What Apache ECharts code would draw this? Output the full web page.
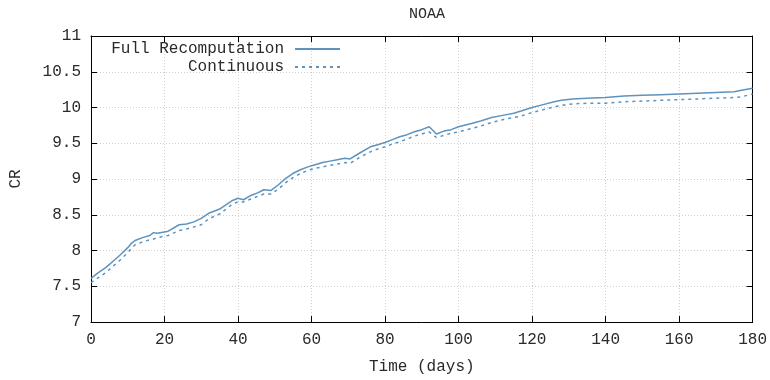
<!DOCTYPE html>
<html>
<head>
<meta charset="utf-8">
<script src="https://cdn.jsdelivr.net/npm/echarts@6/dist/echarts.min.js"></script>
<style>html,body{margin:0;padding:0;background:#fff}#c{width:770px;height:380px}</style>
</head>
<body>
<div id="c"></div>
<script>
const days = [0,2,4,6,8,10,11,12,14,16,17,18,20,21,24,26,28,30,32,34,35,37,38.5,40,41.5,43.5,45.5,47,49,51,53,55,57,59,61,63,65,67,69,70.5,73,76,78,80,82,84,86,88,90,92,94,96,98,100,103,106,109,112,115,117,120,123,126,128,131,135,140,145,150,155,160,165,170,175,177,180];
const fullRecomputation = [7.61,7.69,7.76,7.85,7.94,8.04,8.10,8.14,8.18,8.21,8.25,8.24,8.26,8.27,8.36,8.37,8.40,8.45,8.52,8.56,8.58,8.65,8.70,8.73,8.71,8.77,8.81,8.85,8.84,8.92,9.01,9.08,9.13,9.17,9.20,9.23,9.25,9.27,9.29,9.28,9.36,9.45,9.48,9.51,9.55,9.59,9.62,9.66,9.69,9.73,9.63,9.67,9.69,9.73,9.77,9.81,9.86,9.89,9.92,9.95,10.00,10.04,10.08,10.10,10.12,10.13,10.14,10.16,10.17,10.18,10.19,10.20,10.21,10.22,10.24,10.27];
const continuous = [7.55,7.62,7.69,7.78,7.87,7.97,8.03,8.08,8.12,8.15,8.16,8.18,8.20,8.21,8.28,8.30,8.33,8.36,8.44,8.49,8.51,8.59,8.65,8.68,8.68,8.72,8.76,8.79,8.79,8.86,8.95,9.02,9.08,9.12,9.15,9.17,9.19,9.21,9.23,9.22,9.30,9.38,9.42,9.45,9.49,9.52,9.56,9.60,9.63,9.66,9.58,9.61,9.64,9.66,9.70,9.74,9.79,9.83,9.86,9.88,9.93,9.97,10.01,10.03,10.05,10.06,10.06,10.08,10.09,10.10,10.11,10.12,10.13,10.14,10.15,10.19];
const seriesNames = ['Full Recomputation','Continuous'];
const titleText = 'NOAA';
const xName = 'Time (days)';
const yName = 'CR';

const font = "'Liberation Mono', 'DejaVu Sans Mono', monospace";
const color = '#5e93be';
const textColor = '#2a2a2a';
const pairs = (ys) => days.map((d, i) => [d, ys[i]]);

const chart = echarts.init(document.getElementById('c'), null, {renderer: 'canvas'});
const baseX = {
  type: 'value', min: 0, max: 180, interval: 20,
  axisLine: {show: true, onZero: false, lineStyle: {color: '#000', width: 1}},
  axisTick: {show: true, inside: true, length: 6, lineStyle: {color: '#000'}},
  splitLine: {show: false}
};
const baseY = {
  type: 'value', min: 7, max: 11, interval: 0.5,
  axisLine: {show: true, onZero: false, lineStyle: {color: '#000', width: 1}},
  axisTick: {show: true, inside: true, length: 6, lineStyle: {color: '#000'}},
  splitLine: {show: false}
};
const legendBase = {
  right: 429, orient: 'vertical', align: 'right', padding: 0,
  itemWidth: 45, itemHeight: 14, selectedMode: false,
  itemStyle: {opacity: 0},
  textStyle: {fontFamily: font, fontSize: 16, color: textColor, padding: [0, 6, 0, 0]}
};
chart.setOption({
  animation: false,
  backgroundColor: '#fff',
  title: {
    text: titleText, left: 422, top: 2, textAlign: 'center',
    textStyle: {fontFamily: font, fontSize: 15, fontWeight: 'normal', color: textColor}
  },
  grid: {left: 90, right: 16, top: 36, bottom: 56},
  legend: [
    Object.assign({}, legendBase, {data: [seriesNames[0]], top: 41}),
    Object.assign({}, legendBase, {data: [seriesNames[1]], top: 59})
  ],
  xAxis: [
    Object.assign({}, baseX, {
      position: 'bottom',
      name: xName, nameLocation: 'middle', nameGap: 37,
      nameTextStyle: {fontFamily: font, fontSize: 16, color: textColor},
      axisLabel: {fontFamily: font, fontSize: 16, color: textColor, margin: 10},
      splitLine: {show: true, lineStyle: {color: '#d0d0d0', type: [1, 2], width: 1}}
    }),
    Object.assign({}, baseX, {position: 'top', axisLabel: {show: false}})
  ],
  yAxis: [
    Object.assign({}, baseY, {
      position: 'left',
      name: yName, nameLocation: 'middle', nameGap: 67, nameRotate: 90,
      nameTextStyle: {fontFamily: font, fontSize: 16, color: textColor},
      axisLabel: {fontFamily: font, fontSize: 16, color: textColor, margin: 10},
      splitLine: {show: true, lineStyle: {color: '#d0d0d0', type: [1, 2], width: 1}}
    }),
    Object.assign({}, baseY, {position: 'right', axisLabel: {show: false}})
  ],
  series: [
    {
      name: seriesNames[0], type: 'line', data: pairs(fullRecomputation),
      showSymbol: false, symbol: 'none', color: color,
      lineStyle: {color: color, width: 1.5}
    },
    {
      name: seriesNames[1], type: 'line', data: pairs(continuous),
      showSymbol: false, symbol: 'none', color: color,
      lineStyle: {color: color, width: 1.5, type: [3, 4]}
    }
  ]
});
</script>
</body>
</html>
